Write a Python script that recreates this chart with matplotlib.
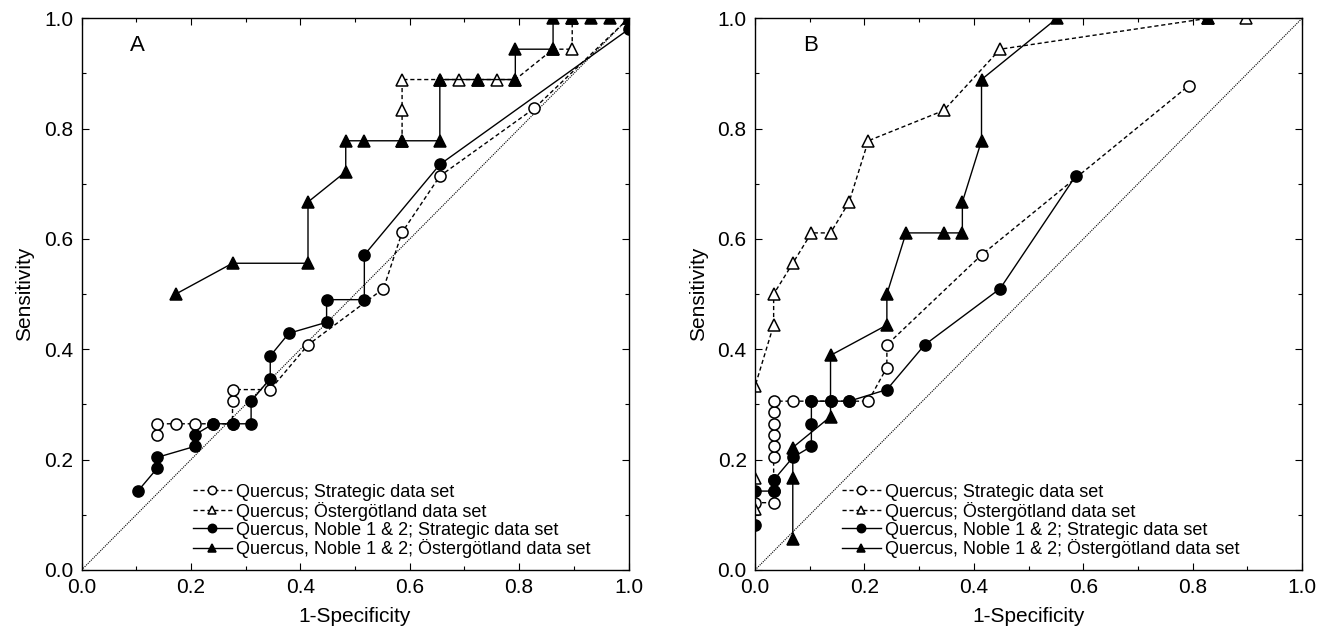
import matplotlib
matplotlib.use("Agg")
import matplotlib.pyplot as plt
from matplotlib.ticker import MultipleLocator

plt.rcParams['font.family'] = ['Liberation Sans', 'DejaVu Sans']

LABELS = [
    "Quercus; Strategic data set",
    "Quercus; Östergötland data set",
    "Quercus, Noble 1 & 2; Strategic data set",
    "Quercus, Noble 1 & 2; Östergötland data set",
]

# panel A
a_str_x = [0.138, 0.138, 0.172, 0.207, 0.241, 0.276, 0.276, 0.276, 0.345, 0.414,
           0.552, 0.586, 0.655, 0.828, 1.0]
a_str_y = [0.245, 0.265, 0.265, 0.265, 0.265, 0.265, 0.306, 0.327, 0.327, 0.408,
           0.510, 0.612, 0.714, 0.837, 1.0]
a_ost_x = [0.586, 0.586, 0.586, 0.655, 0.690, 0.724, 0.759, 0.793, 0.862, 0.897,
           0.897, 1.0]
a_ost_y = [0.778, 0.833, 0.889, 0.889, 0.889, 0.889, 0.889, 0.889, 0.944, 0.944,
           1.0, 1.0]
a_nstr_x = [0.103, 0.138, 0.138, 0.207, 0.207, 0.241, 0.276, 0.310, 0.310, 0.345,
            0.345, 0.379, 0.448, 0.448, 0.517, 0.517, 0.655, 1.0]
a_nstr_y = [0.143, 0.184, 0.204, 0.224, 0.245, 0.265, 0.265, 0.265, 0.306, 0.347,
            0.388, 0.429, 0.449, 0.490, 0.490, 0.571, 0.735, 0.980]
a_nost_x = [0.172, 0.276, 0.414, 0.414, 0.483, 0.483, 0.517, 0.586, 0.655, 0.655,
            0.724, 0.793, 0.793, 0.862, 0.862, 0.897, 0.931, 0.966, 1.0]
a_nost_y = [0.5, 0.556, 0.556, 0.667, 0.722, 0.778, 0.778, 0.778, 0.778, 0.889,
            0.889, 0.889, 0.944, 0.944, 1.0, 1.0, 1.0, 1.0, 1.0]

# panel B
b_str_x = [0.0, 0.034, 0.034, 0.034, 0.034, 0.034, 0.034, 0.034, 0.034, 0.034,
           0.069, 0.103, 0.138, 0.172, 0.207, 0.241, 0.241, 0.414, 0.793]
b_str_y = [0.122, 0.122, 0.143, 0.163, 0.204, 0.224, 0.245, 0.265, 0.286, 0.306,
           0.306, 0.306, 0.306, 0.306, 0.306, 0.367, 0.408, 0.571, 0.878]
b_ost_x = [0.0, 0.0, 0.0, 0.034, 0.034, 0.069, 0.103, 0.138, 0.172, 0.207,
           0.345, 0.448, 0.828, 0.897]
b_ost_y = [0.111, 0.167, 0.333, 0.444, 0.5, 0.556, 0.611, 0.611, 0.667, 0.778,
           0.833, 0.944, 1.0, 1.0]
b_nstr_x = [0.0, 0.0, 0.034, 0.034, 0.069, 0.103, 0.103, 0.103, 0.138, 0.172,
            0.241, 0.310, 0.448, 0.586]
b_nstr_y = [0.082, 0.143, 0.143, 0.163, 0.204, 0.224, 0.265, 0.306, 0.306, 0.306,
            0.327, 0.408, 0.510, 0.714]
b_nost_x = [0.069, 0.069, 0.069, 0.138, 0.138, 0.241, 0.241, 0.276, 0.345, 0.379,
            0.379, 0.414, 0.414, 0.552, 0.828]
b_nost_y = [0.056, 0.167, 0.222, 0.278, 0.389, 0.444, 0.5, 0.611, 0.611, 0.611,
            0.667, 0.778, 0.889, 1.0, 1.0]


def draw_panel(ax, letter, series, legend_x):
    ax.plot([0, 1], [0, 1], color='k', linestyle=(0, (1, 1)), linewidth=0.8)
    styles = [
        dict(linestyle=(0, (3, 2)), marker='o', markerfacecolor='white'),
        dict(linestyle=(0, (3, 2)), marker='^', markerfacecolor='white'),
        dict(linestyle='-', marker='o', markerfacecolor='black'),
        dict(linestyle='-', marker='^', markerfacecolor='black'),
    ]
    for (x, y), st, lab in zip(series, styles, LABELS):
        ax.plot(x, y, color='black', linewidth=1.0, markersize=8,
                markeredgewidth=1.1, markeredgecolor='black', label=lab, **st)
    ax.set_xlim(0, 1)
    ax.set_ylim(0, 1)
    ax.xaxis.set_major_locator(MultipleLocator(0.2))
    ax.yaxis.set_major_locator(MultipleLocator(0.2))
    ax.xaxis.set_minor_locator(MultipleLocator(0.1))
    ax.yaxis.set_minor_locator(MultipleLocator(0.1))
    ax.xaxis.set_major_formatter(lambda v, p: f"{v:.1f}")
    ax.yaxis.set_major_formatter(lambda v, p: f"{v:.1f}")
    ax.tick_params(which='both', direction='in', top=True, right=True,
                   labelsize=15, width=0.8)
    ax.tick_params(which='major', length=5, pad=6)
    ax.tick_params(which='minor', length=3)
    for s in ax.spines.values():
        s.set_linewidth(1.0)
    ax.set_xlabel('1-Specificity', fontsize=15, labelpad=7)
    ax.set_ylabel('Sensitivity', fontsize=15, labelpad=7)
    ax.text(0.088, 0.951, letter, transform=ax.transAxes, fontsize=16,
            va='center', ha='left')
    ax.legend(loc='lower left', bbox_to_anchor=(legend_x, -0.002), frameon=False,
              fontsize=13, markerscale=0.75, handlelength=2.2,
              handletextpad=0.2, labelspacing=0.05, borderaxespad=0.3)


def main():
    fig = plt.figure(figsize=(13.3, 6.4), dpi=100)
    ax_a = fig.add_axes([0.0613, 0.1094, 0.4113, 0.862])
    ax_b = fig.add_axes([0.5677, 0.1094, 0.4113, 0.862])
    draw_panel(ax_a, 'A', [(a_str_x, a_str_y), (a_ost_x, a_ost_y),
                           (a_nstr_x, a_nstr_y), (a_nost_x, a_nost_y)], 0.18)
    draw_panel(ax_b, 'B', [(b_str_x, b_str_y), (b_ost_x, b_ost_y),
                           (b_nstr_x, b_nstr_y), (b_nost_x, b_nost_y)], 0.135)
    fig.savefig('out.png', dpi=100)


if __name__ == "__main__":
    main()
